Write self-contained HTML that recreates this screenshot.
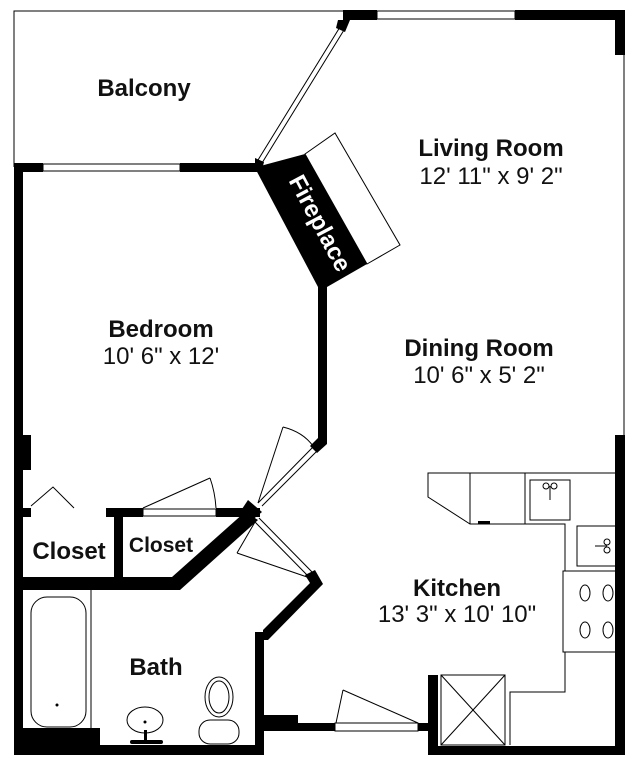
<!DOCTYPE html>
<html><head><style>
html,body{margin:0;padding:0;background:#fff;}
svg{display:block;}
text{font-family:"Liberation Sans",Arial,sans-serif;fill:#111;text-anchor:middle;}
.b{font-weight:bold;font-size:24px;}
.d{font-size:24px;}
</style></head><body>
<svg width="640" height="768" viewBox="0 0 640 768" xmlns="http://www.w3.org/2000/svg">
<g fill="none" stroke="#000" stroke-width="1">
<polyline points="14,167 14,11 343,11"/>
<rect x="377" y="11" width="138" height="8"/>
<line x1="624" y1="55" x2="624" y2="435"/>
<rect x="43" y="164" width="137" height="7"/>
<polygon points="258,160 262,163 344,30 340,27"/>
<polygon points="305,154 335,133 400,245 367,264"/>
</g>
<g fill="#000">
<rect x="343" y="10" width="34" height="10"/>
<rect x="515" y="10" width="110" height="10"/>
<rect x="615" y="10" width="10" height="45"/>
<rect x="615" y="435" width="10" height="43"/>
<rect x="615" y="478" width="10" height="277"/>
<polygon points="338,20 350,20 345,32 336,28"/>
<polygon points="255,158 264,162 262,170 255,167"/>
<rect x="14" y="163" width="29" height="9"/>
<rect x="180" y="163" width="80" height="9"/>
<rect x="14" y="163" width="9" height="592"/>
<rect x="14" y="435" width="17" height="35"/>
<polygon points="255,168 264,165 305,154 367,264 327,287 318,287"/>
<rect x="318" y="280" width="9" height="162"/>
<polygon points="318,438 327,438 327,444 317,453 310,446"/>
<rect x="14" y="508" width="17" height="9"/>
<rect x="106" y="508" width="37" height="9"/>
<rect x="216" y="508" width="44" height="9"/>
<rect x="114" y="508" width="9" height="75"/>
<polygon points="248,500 262,512 250,522 240,512"/>
<polygon points="245,512 258,520 180,590 14,590 14,577 172,577"/>
<polygon points="305,575 315,570 323,584 268,640 263,640 263,630 310,583"/>
<rect x="255" y="632" width="9" height="123"/>
<rect x="14" y="745" width="250" height="10"/>
<rect x="14" y="728" width="86" height="27"/>
<rect x="261" y="715" width="37" height="10"/>
<rect x="261" y="723" width="74" height="8"/>
<rect x="418" y="723" width="12" height="8"/>
<rect x="428" y="675" width="10" height="80"/>
<rect x="428" y="746" width="197" height="9"/>
<rect x="478" y="521" width="12" height="3"/>
<circle cx="145" cy="722" r="1.5"/>
<circle cx="57" cy="705" r="1.5"/>
</g>
<g fill="none" stroke="#000" stroke-width="1">
<line x1="258" y1="503" x2="313" y2="447"/>
<line x1="262" y1="506" x2="317" y2="451"/>
<line x1="258" y1="503" x2="283" y2="427"/>
<path d="M283,427 Q303,432 313,446"/>
<rect x="143" y="509" width="73" height="7"/>
<line x1="143" y1="508" x2="210" y2="478"/>
<path d="M210,478 Q215,492 216,508"/>
<polyline points="31,506 53,487 74,508"/>
<line x1="255" y1="522" x2="310" y2="578"/>
<line x1="259" y1="518" x2="314" y2="574"/>
<line x1="255" y1="522" x2="237" y2="553"/>
<line x1="237" y1="553" x2="310" y2="578"/>
<rect x="335" y="723" width="83" height="8"/>
<line x1="336" y1="723" x2="343" y2="690"/>
<line x1="343" y1="690" x2="418" y2="723"/>
<rect x="441" y="675" width="64" height="70"/>
<line x1="441" y1="675" x2="505" y2="745"/><line x1="505" y1="675" x2="441" y2="745"/>
<polyline points="510,745 510,692 565,692 565,652"/>
<rect x="563" y="571" width="61" height="81"/>
<ellipse cx="585" cy="593" rx="5" ry="8"/><ellipse cx="608" cy="593" rx="5" ry="8"/>
<ellipse cx="585" cy="630" rx="5" ry="8"/><ellipse cx="608" cy="630" rx="5" ry="8"/>
<polyline points="625,473 428,473 428,497 470,524 565,524 565,571"/>
<line x1="470" y1="473" x2="470" y2="524"/>
<line x1="525" y1="473" x2="525" y2="524"/>
<rect x="530" y="480" width="40" height="40"/>
<rect x="577" y="526" width="40" height="40"/>
<circle cx="546" cy="486" r="3"/><circle cx="554" cy="486" r="3"/><line x1="550" y1="486" x2="550" y2="500"/>
<circle cx="607" cy="542" r="3"/><circle cx="607" cy="550" r="3"/><line x1="595" y1="546" x2="607" y2="546"/>
<rect x="31" y="597" width="55" height="130" rx="16"/>
<line x1="91" y1="590" x2="91" y2="728"/>
<ellipse cx="145" cy="720" rx="18" ry="13"/>
<ellipse cx="219" cy="697" rx="14" ry="20"/>
<ellipse cx="219" cy="697" rx="10" ry="16"/>
<rect x="199" y="720" width="40" height="24" rx="11"/>
</g>
<g fill="#000"><rect x="130" y="740" width="33" height="4" rx="2"/><rect x="144" y="730" width="3" height="12"/></g>
<text x="313" y="227" transform="rotate(62 313 227)" style="font-weight:bold;font-size:24px;fill:#fff">Fireplace</text>
<text class="b" x="144" y="96">Balcony</text>
<text class="b" x="491" y="156">Living Room</text>
<text class="d" x="491" y="184">12' 11" x 9' 2"</text>
<text class="b" x="161" y="337">Bedroom</text>
<text class="d" x="161" y="364">10' 6" x 12'</text>
<text class="b" x="479" y="356">Dining Room</text>
<text class="d" x="479" y="383">10' 6" x 5' 2"</text>
<text class="b" x="69" y="559">Closet</text>
<text class="b" x="161" y="552" style="font-size:21px">Closet</text>
<text class="b" x="156" y="675">Bath</text>
<text class="b" x="457" y="596">Kitchen</text>
<text class="d" x="457" y="622">13' 3" x 10' 10"</text>
</svg>
</body></html>
